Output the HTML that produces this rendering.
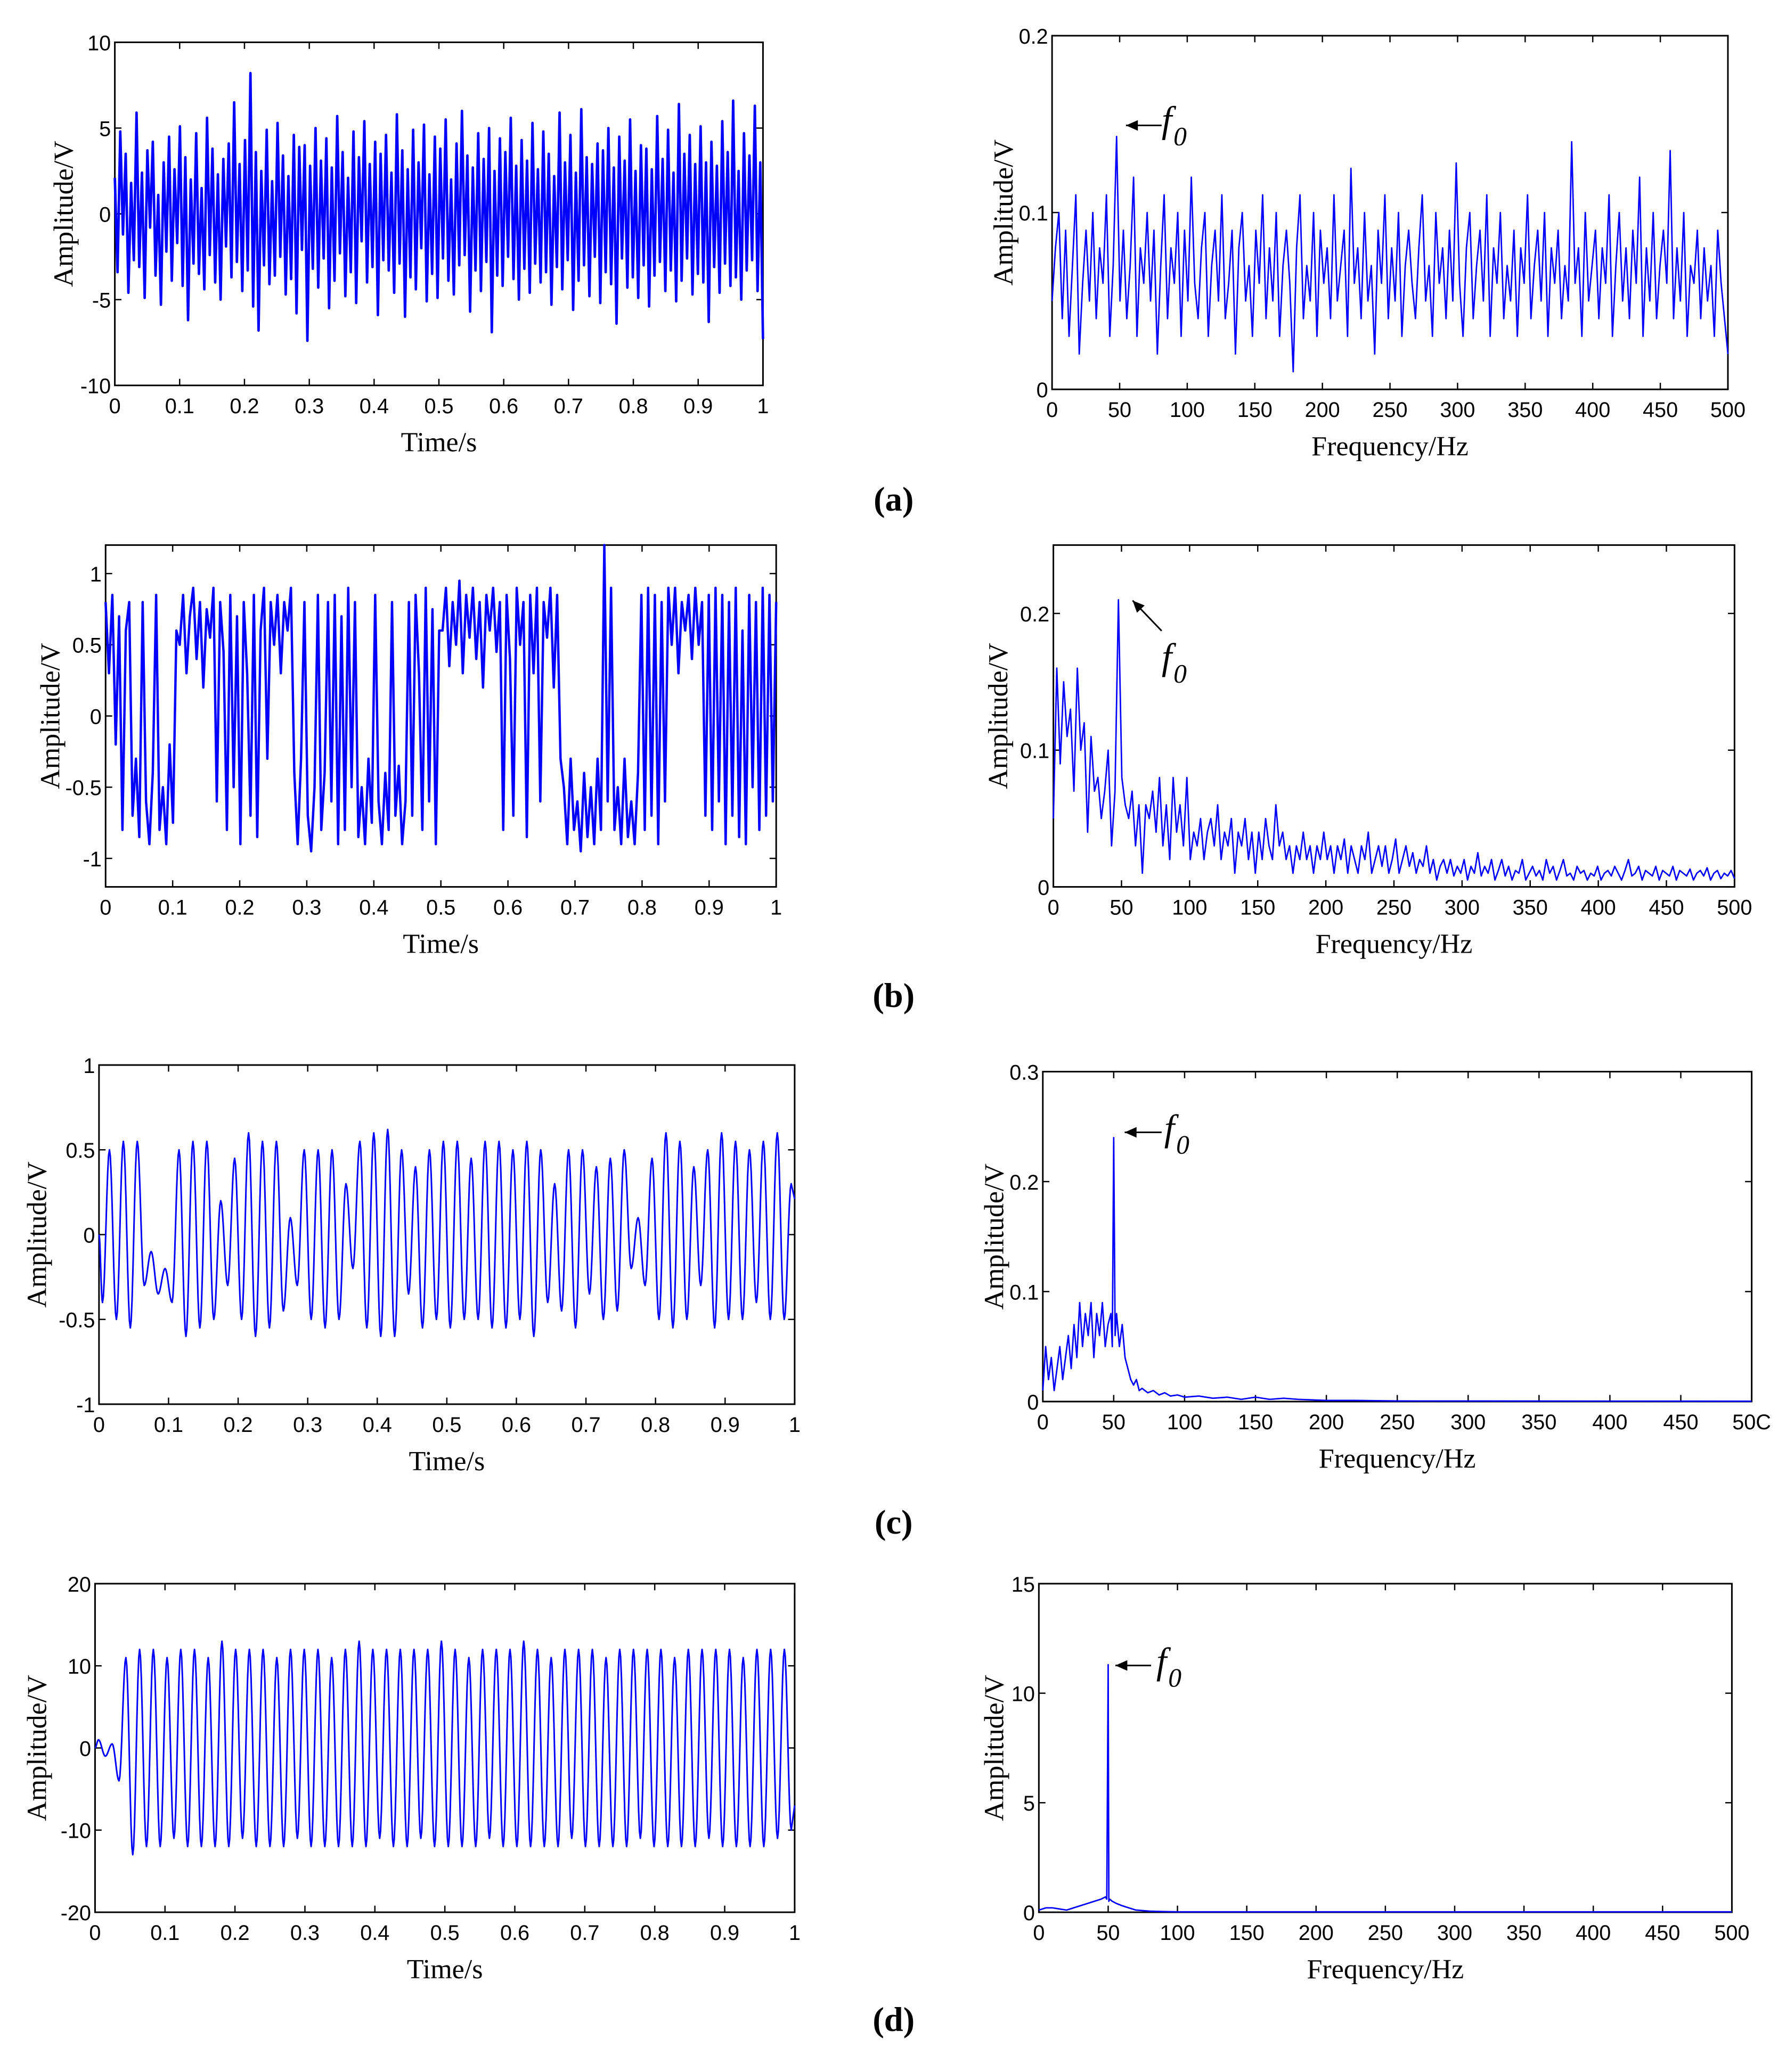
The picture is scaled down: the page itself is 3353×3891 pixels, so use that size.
<!DOCTYPE html>
<html><head><meta charset="utf-8">
<style>
html,body{margin:0;padding:0;background:#fff;}
svg{display:block;}
.tk{font-family:"Liberation Sans Narrow","Liberation Sans",sans-serif;font-size:16px;fill:#000;}
.tt{font-family:"Liberation Serif",serif;font-size:21px;fill:#000;}
.pl{font-family:"Liberation Serif",serif;font-size:26px;font-weight:bold;fill:#000;}
.f0{font-family:"Liberation Serif",serif;font-style:italic;font-size:28px;fill:#000;}
.f0s{font-family:"Liberation Serif",serif;font-style:italic;font-size:20px;fill:#000;}
</style></head>
<body>
<svg id="fig" width="3353" height="3891" viewBox="0 0 1353 1570" xmlns="http://www.w3.org/2000/svg"></svg>
<script>
// ---------- data ----------
const timeTicks=[0,0.1,0.2,0.3,0.4,0.5,0.6,0.7,0.8,0.9,1];
const timeTickLabels=["0","0.1","0.2","0.3","0.4","0.5","0.6","0.7","0.8","0.9","1"];
const freqTicks=[0,50,100,150,200,250,300,350,400,450,500];
const freqTickLabels=["0","50","100","150","200","250","300","350","400","450","500"];
const freqTickLabelsC=["0","50","100","150","200","250","300","350","400","450","50C"];

const aTime=[2.1,-3.4,4.8,-1.2,3.5,-4.6,1.8,-2.7,5.9,-3.1,2.4,-4.9,3.7,-0.8,4.2,-3.6,1.1,-5.3,3.0,-2.2,
4.5,-3.9,2.6,-1.7,5.1,-4.2,3.3,-6.2,2.0,-2.9,4.7,-3.5,1.5,-4.4,5.6,-2.4,3.8,-4.0,2.3,-5.0,
3.2,-1.9,4.1,-3.7,6.5,-2.8,2.9,-4.5,4.3,-3.3,8.2,-5.4,3.6,-6.8,2.5,-3.0,4.9,-4.1,1.9,-3.6,
5.3,-2.5,3.4,-4.7,2.2,-3.8,4.6,-5.8,3.9,-2.1,4.0,-7.4,2.8,-3.2,5.0,-4.3,3.1,-2.6,4.4,-5.5,
2.7,-3.9,5.7,-2.3,3.6,-4.8,2.1,-3.4,4.8,-5.2,3.3,-1.6,5.4,-4.0,2.9,-3.1,4.2,-5.9,3.5,-2.7,
4.6,-3.3,2.4,-4.6,5.8,-2.9,3.7,-6.0,2.6,-3.7,4.9,-4.4,3.0,-2.0,5.2,-5.1,2.3,-3.5,4.5,-4.9,
3.8,-2.6,5.5,-3.9,2.0,-4.7,4.1,-3.0,6.0,-2.4,3.4,-5.7,2.7,-3.3,4.7,-4.5,3.2,-2.8,5.0,-6.9,
2.5,-3.6,4.4,-4.2,3.6,-2.5,5.6,-3.8,2.8,-5.0,4.3,-3.2,3.1,-4.6,5.3,-2.9,2.6,-4.0,4.8,-3.4,
3.5,-5.3,2.2,-3.1,5.9,-4.4,3.0,-2.7,4.6,-5.6,2.4,-3.9,6.1,-3.0,3.3,-4.8,2.9,-2.5,4.1,-5.2,
3.7,-3.4,5.0,-4.1,2.7,-6.4,4.5,-2.6,3.1,-4.3,5.5,-3.7,2.5,-4.9,4.0,-3.0,3.8,-5.4,2.6,-3.6,
5.7,-2.8,3.2,-4.5,4.9,-3.3,2.4,-5.1,6.4,-3.9,3.5,-2.6,4.6,-4.7,2.9,-3.5,5.1,-4.0,3.0,-6.3,
4.2,-3.1,2.8,-4.6,5.4,-2.9,3.6,-4.2,6.6,-3.7,2.5,-5.0,4.7,-3.3,3.4,-2.7,6.3,-4.5,3.0,-7.3];

const aSpec=[0.05,0.08,0.10,0.04,0.09,0.03,0.07,0.11,0.02,0.06,0.09,0.05,0.10,0.04,0.08,0.06,0.11,0.03,0.07,0.143,
0.05,0.09,0.04,0.07,0.12,0.03,0.08,0.06,0.10,0.05,0.09,0.02,0.07,0.11,0.04,0.08,0.06,0.10,0.03,0.09,
0.05,0.12,0.06,0.04,0.08,0.10,0.03,0.07,0.09,0.05,0.11,0.04,0.06,0.09,0.02,0.08,0.10,0.05,0.07,0.03,
0.09,0.06,0.11,0.04,0.08,0.05,0.10,0.03,0.07,0.09,0.06,0.01,0.08,0.11,0.04,0.07,0.05,0.10,0.03,0.09,
0.06,0.08,0.04,0.11,0.05,0.07,0.09,0.03,0.125,0.06,0.08,0.04,0.10,0.05,0.07,0.02,0.09,0.06,0.11,0.04,
0.08,0.05,0.10,0.03,0.07,0.09,0.06,0.04,0.08,0.11,0.05,0.07,0.03,0.10,0.06,0.08,0.04,0.09,0.05,0.128,
0.06,0.03,0.08,0.10,0.04,0.07,0.09,0.05,0.11,0.03,0.08,0.06,0.10,0.04,0.07,0.05,0.09,0.03,0.08,0.06,
0.11,0.04,0.07,0.09,0.05,0.10,0.03,0.08,0.06,0.09,0.04,0.07,0.05,0.14,0.06,0.08,0.03,0.10,0.05,0.07,
0.09,0.04,0.08,0.06,0.11,0.03,0.07,0.10,0.05,0.08,0.04,0.09,0.06,0.12,0.03,0.08,0.05,0.10,0.04,0.07,
0.09,0.06,0.135,0.04,0.08,0.05,0.10,0.03,0.07,0.06,0.09,0.04,0.08,0.05,0.07,0.03,0.09,0.06,0.04,0.02];

const bTime=[0.8,0.3,0.85,-0.2,0.7,-0.8,0.6,0.8,
-0.7,-0.3,-0.85,0.8,-0.6,-0.9,-0.4,0.85,-0.8,-0.5,-0.9,-0.2,-0.75,0.6,
0.5,0.85,0.3,0.7,0.9,0.4,0.8,0.2,0.75,0.55,0.9,-0.6,0.8,0.45,
-0.8,0.85,-0.5,0.7,-0.9,0.8,0.3,-0.7,0.85,-0.85,0.6,0.9,-0.3,0.8,
0.5,0.85,0.3,0.8,0.6,0.9,
-0.4,-0.9,-0.3,0.8,-0.7,-0.95,-0.5,0.85,-0.8,-0.4,
0.8,-0.6,0.85,-0.9,0.7,-0.8,0.9,-0.5,0.8,-0.85,
-0.5,-0.9,-0.3,-0.75,0.85,-0.6,-0.9,-0.4,-0.8,0.8,-0.7,-0.35,-0.9,-0.6,
0.8,-0.7,0.85,0.3,-0.8,0.9,-0.6,0.75,-0.9,0.6,
0.6,0.9,0.35,0.8,0.5,0.95,0.3,0.85,0.55,0.9,0.4,0.8,0.2,0.85,0.6,0.9,0.45,0.8,
-0.8,0.85,0.4,-0.7,0.9,0.5,0.8,-0.85,0.85,0.3,0.9,-0.6,0.8,0.55,0.9,0.2,0.85,-0.3,
-0.5,-0.9,-0.3,-0.8,-0.6,-0.95,-0.4,-0.85,-0.5,-0.9,-0.3,-0.8,
1.2,-0.6,0.9,-0.8,
-0.5,-0.9,-0.3,-0.85,-0.6,-0.9,-0.4,0.85,
-0.8,0.9,-0.7,0.85,-0.9,0.8,-0.6,0.9,
0.5,0.9,0.3,0.8,0.6,0.85,0.4,0.9,0.5,0.8,-0.7,0.85,
-0.8,0.9,-0.6,0.85,-0.9,0.8,-0.7,0.9,-0.85,0.6,-0.9,0.85,-0.5,0.8,-0.8,0.9,-0.7,0.85,-0.6,0.8];

const bSpec=[0.05,0.16,0.09,0.15,0.11,0.13,0.07,0.16,0.10,0.12,0.04,0.11,0.07,0.08,0.05,0.07,0.10,0.03,0.07,0.21,
0.08,0.06,0.05,0.07,0.03,0.06,0.01,0.06,0.05,0.07,0.04,0.08,0.03,0.06,0.02,0.08,0.04,0.06,0.03,0.08,
0.02,0.04,0.03,0.05,0.02,0.04,0.05,0.03,0.06,0.02,0.04,0.03,0.05,0.01,0.04,0.03,0.05,0.02,0.04,0.01,
0.04,0.02,0.05,0.03,0.02,0.06,0.03,0.04,0.02,0.03,0.01,0.03,0.02,0.04,0.02,0.03,0.01,0.03,0.02,0.04,
0.02,0.03,0.01,0.03,0.02,0.035,0.01,0.03,0.02,0.01,0.03,0.02,0.04,0.01,0.02,0.03,0.015,0.03,0.01,0.02,
0.035,0.01,0.02,0.03,0.015,0.025,0.01,0.02,0.015,0.03,0.01,0.02,0.005,0.015,0.02,0.01,0.02,0.008,0.015,0.01,
0.02,0.005,0.015,0.01,0.025,0.008,0.015,0.01,0.02,0.005,0.012,0.02,0.008,0.015,0.005,0.012,0.01,0.02,0.005,0.01,
0.015,0.008,0.012,0.005,0.02,0.01,0.015,0.005,0.012,0.02,0.008,0.01,0.005,0.015,0.01,0.012,0.005,0.01,0.008,0.015,
0.005,0.01,0.012,0.008,0.015,0.01,0.005,0.012,0.02,0.008,0.01,0.015,0.005,0.012,0.01,0.008,0.015,0.005,0.012,0.01,
0.008,0.015,0.005,0.012,0.01,0.008,0.013,0.005,0.01,0.012,0.008,0.014,0.005,0.01,0.012,0.006,0.01,0.008,0.012,0.006];

const cTime=[-0.4,0.5,-0.5,0.55,-0.55,0.55,-0.3,-0.1,-0.35,-0.2,-0.4,0.5,-0.6,0.55,-0.55,0.55,-0.5,0.2,-0.3,0.45,
-0.5,0.6,-0.6,0.55,-0.55,0.55,-0.45,0.1,-0.3,0.5,-0.5,0.5,-0.55,0.5,-0.5,0.3,-0.2,0.55,-0.55,0.6,
-0.6,0.62,-0.6,0.5,-0.35,0.4,-0.55,0.5,-0.5,0.55,-0.55,0.55,-0.5,0.45,-0.5,0.55,-0.55,0.55,-0.55,0.5,
-0.5,0.55,-0.6,0.5,-0.4,0.3,-0.45,0.5,-0.55,0.5,-0.35,0.4,-0.5,0.45,-0.45,0.5,-0.2,0.1,-0.3,0.45,
-0.5,0.6,-0.55,0.55,-0.5,0.4,-0.3,0.5,-0.55,0.6,-0.5,0.55,-0.5,0.5,-0.4,0.55,-0.5,0.6,-0.5,0.3];

const cFreq=[0,2,4,6,8,10,12,14,16,18,20,22,24,26,28,30,32,34,36,38,40,42,44,46,48,49,50,51,52,54,56,58,60,62,64,66,68,70,74,78,82,86,90,95,100,110,120,130,140,150,160,170,180,200,220,250,500];
const cAmp=[0.01,0.05,0.02,0.04,0.01,0.03,0.05,0.02,0.04,0.06,0.03,0.07,0.04,0.09,0.05,0.08,0.06,0.09,0.04,0.08,0.06,0.09,0.05,0.07,0.08,0.05,0.24,0.06,0.08,0.05,0.07,0.04,0.03,0.02,0.015,0.02,0.01,0.012,0.008,0.01,0.006,0.008,0.005,0.006,0.004,0.005,0.003,0.004,0.002,0.004,0.002,0.003,0.002,0.001,0.001,0.0005,0.0003];

const dTime=[1,-1,0.5,-4,11,-13,12,-12,12,-12,11,-11,12,-12,12,-12,11,-12,13,-12,12,-11,
12,-12,12,-12,11,-12,12,-11,12,-12,12,-12,11,-12,12,-12,13,-12,12,-11,
12,-12,12,-12,12,-11,12,-12,13,-12,12,-12,11,-12,12,-11,12,-12,12,-12,
13,-12,12,-12,11,-12,12,-11,12,-12,12,-12,11,-12,12,-12,12,-11,12,-12,
12,-12,11,-12,12,-12,12,-11,12,-12,12,-12,11,-12,12,-12,12,-11,12,-10];

const dFreq=[0,5,10,15,20,25,30,35,40,45,48,49,49.5,50,50.5,51,53,56,60,65,70,80,90,100,500];
const dAmp=[0.1,0.2,0.2,0.15,0.1,0.2,0.3,0.4,0.5,0.6,0.7,0.6,6,11.3,0.5,0.6,0.5,0.4,0.3,0.2,0.1,0.05,0.03,0.02,0.02];

// ---------- drawing ----------
const NS="http://www.w3.org/2000/svg";
const svg=document.getElementById('fig');
function mk(tag,attrs,parent){const e=document.createElementNS(NS,tag);for(const k in attrs)e.setAttribute(k,attrs[k]);(parent||svg).appendChild(e);return e;}

function axes(id,box,xmin,xmax,ymin,ymax,xt,xtl,yt,ytl,xtitle,ytitleX){
  const g=mk('g',{});
  
  
  const sx=v=>box.x0+(v-xmin)/(xmax-xmin)*(box.x1-box.x0);
  const sy=v=>box.y1-(v-ymin)/(ymax-ymin)*(box.y1-box.y0);
  const frame=mk('rect',{x:box.x0,y:box.y0,width:box.x1-box.x0,height:box.y1-box.y0,fill:'#fff',stroke:'#000','stroke-width':1.2},g);
  
  
  xt.forEach((v,i)=>{
    const x=sx(v);
    mk('line',{x1:x,x2:x,y1:box.y1,y2:box.y1-5,stroke:'#000','stroke-width':1},g);
    mk('line',{x1:x,x2:x,y1:box.y0,y2:box.y0+5,stroke:'#000','stroke-width':1},g);
    const t=mk('text',{x:x,y:box.y1+21,'text-anchor':'middle',class:'tk'},g);
    t.textContent=xtl[i];
    
    
  });
  yt.forEach((v,i)=>{
    const y=sy(v);
    mk('line',{x1:box.x0,x2:box.x0+5,y1:y,y2:y,stroke:'#000','stroke-width':1},g);
    mk('line',{x1:box.x1,x2:box.x1-5,y1:y,y2:y,stroke:'#000','stroke-width':1},g);
    const t=mk('text',{x:box.x0-3,y:y+6,'text-anchor':'end',class:'tk'},g);
    t.textContent=ytl[i];
    
    
  });
  const xtT=mk('text',{x:(box.x0+box.x1)/2,y:box.y1+50,'text-anchor':'middle',class:'tt'},g);
  xtT.textContent=xtitle;
  
  
  const yc=(box.y0+box.y1)/2;
  const ytT=mk('text',{x:ytitleX,y:yc,'text-anchor':'middle',class:'tt',transform:`rotate(-90 ${ytitleX} ${yc})`},g);
  ytT.textContent='Amplitude/V';
  
  
  return {sx,sy,g};
}
function line(ax,xs,ys,name,sw){
  let d='';
  xs.forEach((x,i)=>{d+=(i?'L':'M')+ax.sx(x).toFixed(2)+' '+ax.sy(ys[i]).toFixed(2);});
  const p=mk('path',{d:d,fill:'none',stroke:'#0000ff','stroke-width':sw||1,'stroke-linejoin':'round'},ax.g);
  
  
}
function osc(ax,ext,start,name){
  const n=ext.length;const xs=[0],ys=[start];
  for(let k=0;k<n;k++){
    const xa=k===0?0:(k-0.5)/n, xb=(k+0.5)/n;
    const ya=k===0?start:ext[k-1], yb=ext[k];
    for(let s=1;s<=8;s++){const f=s/8;xs.push(xa+(xb-xa)*f);ys.push(ya+(yb-ya)*(1-Math.cos(Math.PI*f))/2);}
  }
  for(let s=1;s<=4;s++){const f=s/4;xs.push((n-0.5)/n+0.5/n*f);ys.push(ext[n-1]*(1-f*0.3));}
  line(ax,xs,ys,name,1.2);
}
function label(txt,x,y,name){const t=mk('text',{x:x,y:y,'text-anchor':'middle',class:'pl'});t.textContent=txt;}
function f0(x,y,ax1,ay1,ax2,ay2,name){
  const g=mk('g',{});
  
  
  mk('line',{x1:ax1,y1:ay1,x2:ax2,y2:ay2,stroke:'#000','stroke-width':1.2},g);
  const ang=Math.atan2(ay2-ay1,ax2-ax1);const L=9,W=4;
  const bx=ax2-L*Math.cos(ang),by=ay2-L*Math.sin(ang);
  mk('polygon',{points:`${ax2},${ay2} ${bx+W*Math.sin(ang)},${by-W*Math.cos(ang)} ${bx-W*Math.sin(ang)},${by+W*Math.cos(ang)}`,fill:'#000'},g);
  const t=mk('text',{x:x,y:y,class:'f0'},g);t.textContent='f';
  const s=mk('text',{x:x+9,y:y+10,class:'f0s'},g);s.textContent='0';
}
const idx=(arr,scale)=>arr.map((_,i)=>i*scale);

// (a)
let A=axes('a-time',{x0:87,x1:578,y0:32,y1:292},0,1,-10,10,timeTicks,timeTickLabels,[10,5,0,-5,-10],["10","5","0","-5","-10"],'Time/s',55);
line(A,idx(aTime,1/(aTime.length-1)),aTime,'a-time-series',1.9);
let AF=axes('a-freq',{x0:797,x1:1309,y0:27,y1:295},0,500,0,0.2,freqTicks,freqTickLabels,[0.2,0.1,0],["0.2","0.1","0"],'Frequency/Hz',767);
line(AF,idx(aSpec,500/(aSpec.length-1)),aSpec,'a-spectrum-series',1.1);
f0(880,100,880,95,853,95,'a-f0-annotation');
label('(a)',677,387,'panel-label-a');

// (b)
let B=axes('b-time',{x0:80,x1:588,y0:413,y1:672},0,1,-1.2,1.2,timeTicks,timeTickLabels,[1,0.5,0,-0.5,-1],["1","0.5","0","-0.5","-1"],'Time/s',45);
line(B,idx(bTime,1/(bTime.length-1)),bTime,'b-time-series',1.8);
let BF=axes('b-freq',{x0:798,x1:1314,y0:413,y1:672},0,500,0,0.25,freqTicks,freqTickLabels,[0.2,0.1,0],["0.2","0.1","0"],'Frequency/Hz',763);
line(BF,idx(bSpec,500/(bSpec.length-1)),bSpec,'b-spectrum-series',1.1);
f0(880,507,880,478,858,455,'b-f0-annotation');
label('(b)',677,763,'panel-label-b');

// (c)
let C=axes('c-time',{x0:75,x1:602,y0:807,y1:1064},0,1,-1,1,timeTicks,timeTickLabels,[1,0.5,0,-0.5,-1],["1","0.5","0","-0.5","-1"],'Time/s',35);
osc(C,cTime,0,'c-time-series');
let CF=axes('c-freq',{x0:790,x1:1327,y0:812,y1:1062},0,500,0,0.3,freqTicks,freqTickLabelsC,[0.3,0.2,0.1,0],["0.3","0.2","0.1","0"],'Frequency/Hz',760);
line(CF,cFreq,cAmp,'c-spectrum-series',1.1);
f0(882,864,880,858,852,858,'c-f0-annotation');
label('(c)',677,1162,'panel-label-c');

// (d)
let D=axes('d-time',{x0:72,x1:602,y0:1200,y1:1449},0,1,-20,20,timeTicks,timeTickLabels,[20,10,0,-10,-20],["20","10","0","-10","-20"],'Time/s',35);
osc(D,dTime,0,'d-time-series');
let DF=axes('d-freq',{x0:787,x1:1312,y0:1200,y1:1449},0,500,0,15,freqTicks,freqTickLabels,[15,10,5,0],["15","10","5","0"],'Frequency/Hz',760);
line(DF,dFreq,dAmp,'d-spectrum-series',1.1);
f0(876,1268,872,1262,845,1262,'d-f0-annotation');
label('(d)',677,1539,'panel-label-d');
</script>
</body></html>
